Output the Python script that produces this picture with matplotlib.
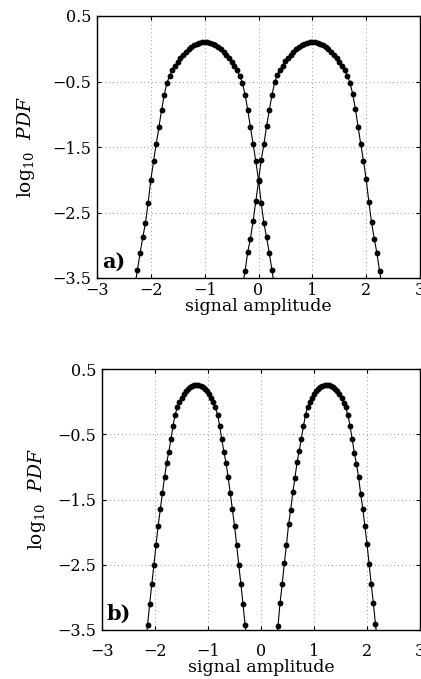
import numpy as np
import matplotlib
matplotlib.use("Agg")
import matplotlib.pyplot as plt

plt.rcParams["font.family"] = ["DejaVu Serif"]
plt.rcParams["mathtext.fontset"] = "dejavuserif"

# panel a) : two distributions centred near -1 and +1
xa_left = np.linspace(-2.30, 0.30, 53)
ya_left = [-3.65, -3.38, -3.12, -2.88, -2.66, -2.35, -2.00, -1.72, -1.45, -1.20,
           -0.93, -0.70, -0.52, -0.41, -0.33, -0.26, -0.20, -0.14, -0.09, -0.05,
           -0.01, 0.03, 0.05, 0.07, 0.09, 0.10, 0.10, 0.10, 0.09, 0.07,
           0.05, 0.02, -0.01, -0.05, -0.09, -0.14, -0.20, -0.26, -0.33, -0.41,
           -0.52, -0.70, -0.93, -1.20, -1.45, -1.72, -2.00, -2.35, -2.66, -2.88,
           -3.12, -3.38, -3.65]
xa_right = np.linspace(-0.30, 2.30, 53)
ya_right = [-3.62, -3.40, -3.10, -2.90, -2.63, -2.33, -2.02, -1.70, -1.46, -1.18,
            -0.94, -0.71, -0.51, -0.40, -0.32, -0.26, -0.19, -0.14, -0.09, -0.05,
            -0.01, 0.02, 0.05, 0.07, 0.09, 0.10, 0.10, 0.10, 0.09, 0.07,
            0.05, 0.03, -0.01, -0.05, -0.09, -0.14, -0.20, -0.26, -0.33, -0.41,
            -0.52, -0.69, -0.92, -1.19, -1.46, -1.71, -1.99, -2.34, -2.65, -2.90,
            -3.12, -3.40, -3.64]

# panel b) : two narrower distributions centred near -1.22 and +1.24
xb_left = np.linspace(-2.18, -0.26, 49)
yb_left = [-3.72, -3.42, -3.10, -2.79, -2.50, -2.19, -1.90, -1.65, -1.40, -1.16,
           -0.94, -0.77, -0.58, -0.37, -0.20, -0.09, -0.01, 0.06, 0.11, 0.16,
           0.20, 0.22, 0.24, 0.25, 0.26, 0.25, 0.24, 0.22, 0.20, 0.16,
           0.11, 0.06, -0.01, -0.09, -0.20, -0.37, -0.58, -0.77, -0.94, -1.16,
           -1.40, -1.65, -1.90, -2.19, -2.50, -2.79, -3.10, -3.42, -3.72]
xb_right = np.linspace(0.28, 2.20, 49)
yb_right = [-3.70, -3.44, -3.08, -2.80, -2.48, -2.20, -1.88, -1.66, -1.39, -1.17,
            -0.93, -0.76, -0.57, -0.38, -0.20, -0.08, -0.01, 0.06, 0.11, 0.16,
            0.20, 0.22, 0.24, 0.25, 0.26, 0.25, 0.24, 0.22, 0.20, 0.16,
            0.11, 0.05, -0.02, -0.09, -0.21, -0.37, -0.57, -0.78, -0.95, -1.15,
            -1.41, -1.64, -1.91, -2.18, -2.49, -2.80, -3.09, -3.41, -3.73]

xticks = [-3, -2, -1, 0, 1, 2, 3]
yticks = [0.5, -0.5, -1.5, -2.5, -3.5]

fig = plt.figure(figsize=(4.21, 6.79), dpi=100)
ax_a = fig.add_axes([97 / 421, 1 - 278 / 679, 323 / 421, 262 / 679])
ax_b = fig.add_axes([102 / 421, 1 - 630 / 679, 318 / 421, 261 / 679])

panels = [
    (ax_a, [(xa_left, ya_left), (xa_right, ya_right)], "a)", 3, -0.078, -0.185),
    (ax_b, [(xb_left, yb_left), (xb_right, yb_right)], "b)", 9, -0.110, -0.17),
]

for ax, curves, tag, xpad, xlab_y, ylab_x in panels:
    for x, y in curves:
        ax.plot(x, y, "-", color="black", lw=0.8)
        ax.plot(x, y, "o", color="black", ms=4.2, mew=0)
    ax.set_xlim(-3, 3)
    ax.set_ylim(-3.5, 0.5)
    ax.set_xticks(xticks)
    ax.set_yticks(yticks)
    ax.set_xticklabels([f"{t:g}".replace("-", "\u2212") for t in xticks])
    ax.set_yticklabels([f"{t:g}".replace("-", "\u2212") for t in yticks])
    ax.grid(True, color="#999999", linestyle=(0, (1, 3)), linewidth=0.7)
    ax.tick_params(direction="in", length=3, top=True, right=True, labelsize=11.5)
    ax.tick_params(axis="x", pad=xpad)
    ax.tick_params(axis="y", pad=4)
    for s in ax.spines.values():
        s.set_linewidth(1.0)
    ax.set_xlabel("signal amplitude", fontsize=12.5)
    ax.xaxis.set_label_coords(0.5, xlab_y)
    ax.set_ylabel(r"log$_{10}$  $PDF$", fontsize=13.5)
    ax.yaxis.set_label_coords(ylab_x, 0.5)
    ax.text(0.015, 0.025, tag, transform=ax.transAxes, fontsize=15,
            fontweight="bold", ha="left", va="bottom")

fig.savefig("out.png", dpi=100)
